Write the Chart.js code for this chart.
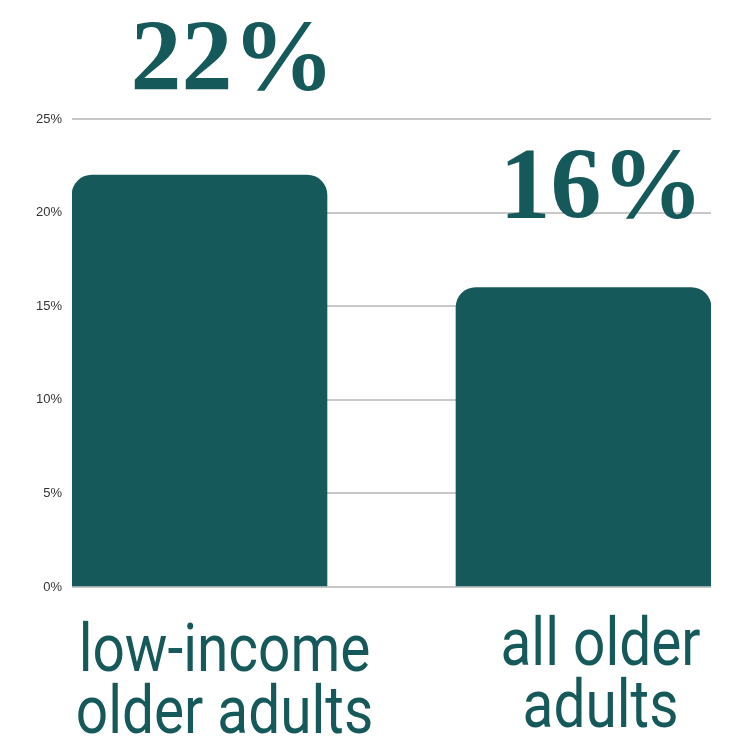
<!DOCTYPE html>
<html>
<head>
<meta charset="utf-8">
<script src="https://cdn.jsdelivr.net/npm/chart.js@4.4.0/dist/chart.umd.min.js"></script>
<style>
  html, body { margin: 0; padding: 0; background: #fff; }
  #wrap { width: 747px; height: 738px; }
</style>
</head>
<body>
<div id="wrap"><canvas id="chart"></canvas></div>
<script>
var categories = [['low-income', 'older adults'], ['all older', 'adults']];
var values = [22, 16];
var yTicks = [0, 5, 10, 15, 20, 25];

var teal = '#16595a';

// extra placement of the big numbers and the category names
var valueShift = [{ dx: 33, dy: 85 }, { dx: 18, dy: 69 }];
var labelShift = [{ dx: 25, dy: 84 }, { dx: 17, dy: 78 }];
var labelSqueeze = 0.86;

var textPlugin = {
  id: 'barText',
  afterDatasetsDraw: function(chart) {
    var ctx = chart.ctx;
    var meta = chart.getDatasetMeta(0);
    var bottom = chart.chartArea.bottom;
    ctx.save();
    ctx.fillStyle = teal;
    ctx.textAlign = 'center';
    ctx.textBaseline = 'alphabetic';
    meta.data.forEach(function(bar, i) {
      ctx.font = 'bold 102px "Liberation Serif"';
      ctx.fillText(values[i] + '%', bar.x + valueShift[i].dx, bar.y - valueShift[i].dy);
      ctx.font = '66px Roboto';
      categories[i].forEach(function(line, k) {
        ctx.save();
        ctx.translate(bar.x + labelShift[i].dx, bottom + labelShift[i].dy + k * 62);
        ctx.scale(labelSqueeze, 1);
        ctx.fillText(line, 0, 0);
        ctx.restore();
      });
    });
    ctx.restore();
  }
};

var chart = new Chart(document.getElementById('chart').getContext('2d'), {
  type: 'bar',
  data: {
    datasets: [{
      data: values.map(function(v, i) { return { x: i, y: v }; }),
      backgroundColor: teal,
      barThickness: 255,
      borderRadius: { topLeft: 20, topRight: 20 },
      borderSkipped: 'bottom'
    }]
  },
  options: {
    responsive: true,
    maintainAspectRatio: false,
    animation: false,
    layout: { padding: { top: 119, right: 36, bottom: 151, left: 0 } },
    plugins: {
      legend: { display: false },
      tooltip: { enabled: false }
    },
    scales: {
      x: {
        type: 'linear',
        display: false,
        offset: false,
        min: -0.332,
        max: 1.332
      },
      y: {
        min: 0,
        max: 25,
        afterBuildTicks: function(scale) {
          scale.ticks = yTicks.map(function(v) { return { value: v }; });
        },
        afterFit: function(scale) { scale.width = 72; },
        border: { display: false },
        grid: { color: '#c8c8c8', lineWidth: 2, drawTicks: false },
        ticks: {
          padding: 10,
          color: '#333',
          font: { family: '"Liberation Sans", Arial', size: 13 },
          callback: function(v) { return v + '%'; }
        }
      }
    }
  },
  plugins: [textPlugin]
});
</script>
</body>
</html>
